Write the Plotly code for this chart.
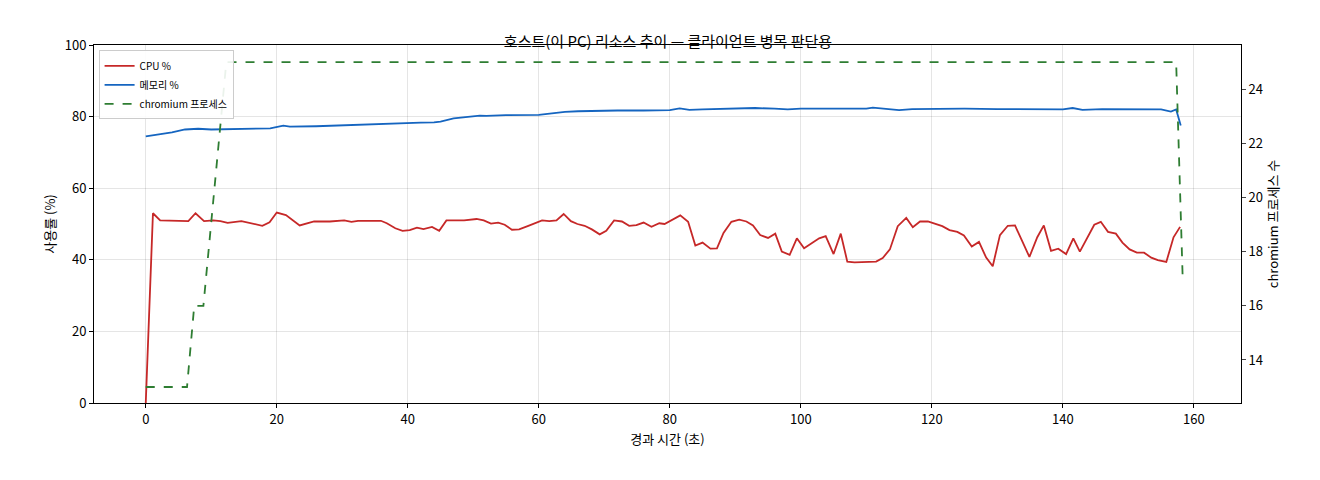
import plotly.graph_objects as go

cpu_t = [0, 1.1, 2.2, 6.5, 7.6, 8.9, 10.3, 11.4, 12.5, 14.6, 17.8, 18.9, 20, 21.4, 23.5, 25.7, 28.1,
         30.3, 31.4, 32.4, 35.9, 36.8, 38.1, 39.2, 40.3, 41.4, 42.4, 43.7, 44.8, 45.9, 48.6, 50.5,
         51.6, 52.7, 53.8, 54.8, 55.9, 57, 58.4, 59.5, 60.5, 61.6, 62.7, 63.8, 64.9, 65.9, 67, 68.1,
         69.3, 70.3, 71.5, 72.7, 73.8, 74.9, 76, 77.2, 78.4, 79.2, 80.3,
         81.6, 82.8, 83.9, 85.0, 86.2, 87.2, 88.2, 89.4, 90.6, 91.7, 92.7, 93.8, 95.0, 96.1, 97.1,
         98.3, 99.4, 100.5, 101.7, 102.8, 103.8, 105.0, 106.1, 107.1, 108.2, 111.5, 112.5, 113.6,
         114.8, 116.1, 117.1, 118.2, 119.4, 120.5, 121.6, 122.7, 123.9, 124.9, 126.1, 127.2, 128.3,
         129.3, 130.4, 131.6, 132.7, 133.8, 134.9, 136.1, 137.1, 138.2, 139.3, 140.5, 141.6, 142.6,
         143.7, 144.8, 145.8, 146.9, 148.1, 149.1, 150.2, 151.3, 152.4, 153.5, 154.5, 155.8, 156.9,
         157.9]
cpu = [0, 53.0, 51.0, 50.8, 53.0, 50.8, 51.0, 50.8, 50.3, 50.8, 49.5, 50.5, 53.2, 52.5, 49.6, 50.7,
       50.7, 51.0, 50.6, 50.9, 50.9, 50.2, 48.8, 48.1, 48.3, 49.0, 48.6, 49.2, 48.1, 51.0, 51.0, 51.4,
       51.0, 50.1, 50.4, 49.8, 48.4, 48.5, 49.5, 50.4, 51.0, 50.8, 51.0, 52.8, 50.8, 50.0, 49.5, 48.5,
       47.1, 48.1, 51.0, 50.7, 49.5, 49.7, 50.4, 49.2, 50.2, 50.0, 51.0,
       52.4, 50.6, 44.0, 44.8, 43.1, 43.2, 47.5, 50.6, 51.2, 50.7, 49.6, 46.9, 46.1, 47.3, 42.3,
       41.4, 46.0, 43.2, 44.6, 46.0, 46.6, 41.6, 47.3, 39.5, 39.3, 39.5, 40.5, 42.9, 49.4, 51.7,
       49.1, 50.7, 50.7, 50.1, 49.4, 48.3, 47.8, 46.8, 43.7, 45.0, 40.6, 38.2, 46.9, 49.5, 49.6,
       45.2, 40.8, 46.3, 49.6, 42.5, 43.1, 41.6, 46.0, 42.3, 46.0, 49.8, 50.6, 47.8, 47.3, 44.8,
       42.9, 42.0, 42.0, 40.6, 39.9, 39.4, 46.3, 49.2]

mem_t = [0, 2, 4, 6, 8, 10, 14, 18, 19, 21, 22, 26, 30, 35, 38, 42, 44, 45, 47, 49, 50, 51, 52, 55,
         60, 62, 64, 66, 68, 72, 76, 80, 81.5, 83, 85, 90, 93, 96, 98, 100, 105, 110, 111, 113, 115,
         117, 120, 125, 130, 135, 138, 140, 141.5, 143, 146, 150, 155, 156.5, 157.3, 158]
mem = [74.5, 75.0, 75.6, 76.4, 76.6, 76.4, 76.5, 76.6, 76.7, 77.5, 77.2, 77.3, 77.6, 77.9, 78.0, 78.3,
       78.4, 78.6, 79.5, 79.8, 80.0, 80.3, 80.2, 80.4, 80.5, 81.0, 81.3, 81.5, 81.6, 81.7, 81.7, 81.8,
       82.3, 81.9, 82.0, 82.2, 82.4, 82.2, 82.0, 82.2, 82.1, 82.2, 82.5, 82.2, 81.8, 82.1, 82.2, 82.2,
       82.1, 82.0, 82.1, 82.0, 82.4, 81.9, 82.1, 82.0, 82.0, 81.4, 82.0, 77.5]

proc_t = [0, 6.3, 7.4, 8.8, 12.3, 157.3, 158.3]
proc = [13, 13, 16, 16, 25, 25, 17]

fig = go.Figure()
fig.add_trace(go.Scatter(x=cpu_t, y=cpu, name="CPU %", mode="lines",
                         line=dict(color="#c62828", width=1.8)))
fig.add_trace(go.Scatter(x=mem_t, y=mem, name="메모리 %", mode="lines",
                         line=dict(color="#1565c0", width=1.8)))
fig.add_trace(go.Scatter(x=proc_t, y=proc, name="chromium 프로세스", mode="lines", yaxis="y2",
                         line=dict(color="#2e7d32", width=1.8, dash="dash")))

axis_style = dict(showline=True, linecolor="black", mirror=True, ticks="outside",
                  ticklen=4, tickcolor="black", zeroline=False, tickfont=dict(size=13))
fig.update_layout(
    width=1320, height=480,
    margin=dict(l=86, r=87, t=37, b=85),
    plot_bgcolor="white", paper_bgcolor="white",
    font=dict(family="Noto Sans CJK KR, DejaVu Sans", size=13, color="black"),
    title=dict(text="호스트(이 PC) 리소스 추이 — 클라이언트 병목 판단용", x=0.5, y=0.94,
               xanchor="center", font=dict(size=15)),
    xaxis=dict(title=dict(text="경과 시간 (초)", standoff=8, font=dict(size=13)),
               range=[-7.9, 167.2], tickvals=[0, 20, 40, 60, 80, 100, 120, 140, 160],
               showgrid=True, gridcolor="rgba(0,0,0,0.1)", **axis_style),
    yaxis=dict(title=dict(text="사용률 (%)", standoff=6, font=dict(size=13)),
               range=[0, 100], dtick=20,
               showgrid=True, gridcolor="rgba(0,0,0,0.1)", **axis_style),
    yaxis2=dict(title=dict(text="chromium 프로세스 수", standoff=6, font=dict(size=13)),
                overlaying="y", side="right", range=[12.41, 25.63],
                tickvals=[14, 16, 18, 20, 22, 24], showgrid=False, tickfont=dict(size=13),
                showline=True, linecolor="black", ticks="outside", ticklen=4, zeroline=False),
    legend=dict(x=0.004, y=0.985, xanchor="left", yanchor="top", bgcolor="rgba(255,255,255,0.9)",
                bordercolor="#cccccc", borderwidth=1, font=dict(size=10)),
    showlegend=True,
)

fig.write_html("out.html")
